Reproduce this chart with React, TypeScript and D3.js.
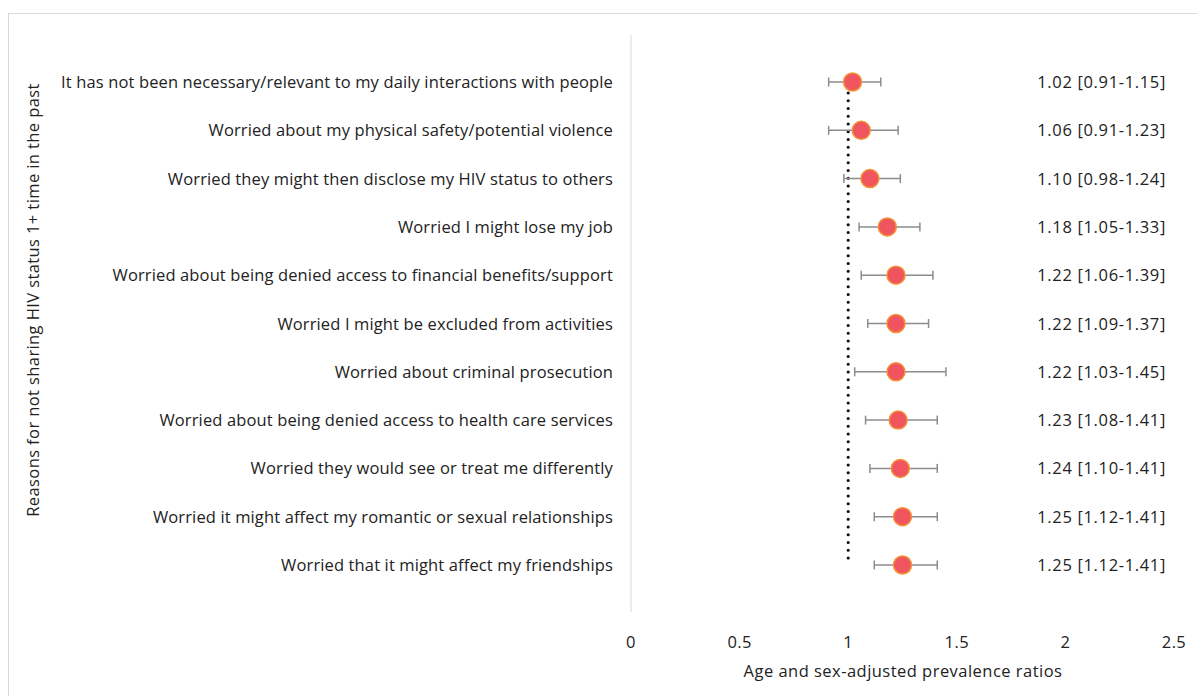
import React from "react";
import * as d3 from "d3";

const reasons = [
  "It has not been necessary/relevant to my daily interactions with people",
  "Worried about my physical safety/potential violence",
  "Worried they might then disclose my HIV status to others",
  "Worried I might lose my job",
  "Worried about being denied access to financial benefits/support",
  "Worried I might be excluded from activities",
  "Worried about criminal prosecution",
  "Worried about being denied access to health care services",
  "Worried they would see or treat me differently",
  "Worried it might affect my romantic or sexual relationships",
  "Worried that it might affect my friendships",
];
const ratios = [1.02, 1.06, 1.1, 1.18, 1.22, 1.22, 1.22, 1.23, 1.24, 1.25, 1.25];
const lower = [0.91, 0.91, 0.98, 1.05, 1.06, 1.09, 1.03, 1.08, 1.1, 1.12, 1.12];
const upper = [1.15, 1.23, 1.24, 1.33, 1.39, 1.37, 1.45, 1.41, 1.41, 1.41, 1.41];
const xTicks = [0, 0.5, 1, 1.5, 2, 2.5];

const W = 1197;
const H = 696;
const FONT = "'Open Sans', 'Noto Sans', sans-serif";
const FS = 16.5;

export default function App() {
  const x = d3.scaleLinear().domain([0, 2.5]).range([631, 1174]);
  const y = d3
    .scalePoint<string>()
    .domain(reasons)
    .range([82, 565]);
  const fmt = (v: number) => v.toFixed(2);
  const tickFmt = (v: number) => String(v);

  return (
    <svg
      width={W}
      height={H}
      style={{ position: "absolute", left: 0, top: 0, background: "#fff" }}
    >
      <rect x={8.5} y={13.5} width={1200} height={700} fill="#fff" stroke="#d9d9d9" />
      {/* value axis baseline */}
      <line x1={x(0)} x2={x(0)} y1={35} y2={612} stroke="#d9d9d9" strokeWidth={1} />
      {/* reference line at ratio 1 */}
      <line
        x1={x(1)}
        x2={x(1)}
        y1={93}
        y2={560}
        stroke="#111"
        strokeWidth={3.2}
        strokeLinecap="round"
        strokeDasharray="0 7.75"
      />
      {reasons.map((r, i) => {
        const cy = y(r)!;
        return (
          <g key={r}>
            <text
              x={613}
              y={cy - 0.5}
              textAnchor="end"
              dominantBaseline="central"
              fontFamily={FONT}
              fontSize={FS}
              letterSpacing={0.13}
              fill="#222"
            >
              {r}
            </text>
            <line x1={x(lower[i])} x2={x(upper[i])} y1={cy} y2={cy} stroke="#8c8c8c" strokeWidth={1.5} />
            <line x1={x(lower[i])} x2={x(lower[i])} y1={cy - 4.5} y2={cy + 4.5} stroke="#8c8c8c" strokeWidth={1.5} />
            <line x1={x(upper[i])} x2={x(upper[i])} y1={cy - 4.5} y2={cy + 4.5} stroke="#8c8c8c" strokeWidth={1.5} />
            <circle cx={x(ratios[i])} cy={cy} r={9} fill="#f0555f" stroke="#f39235" strokeWidth={1.5} />
            <text
              x={1166}
              y={cy - 0.5}
              textAnchor="end"
              dominantBaseline="central"
              fontFamily={FONT}
              fontSize={FS}
              letterSpacing={0.65}
              fill="#222"
            >
              {`${fmt(ratios[i])} [${fmt(lower[i])}-${fmt(upper[i])}]`}
            </text>
          </g>
        );
      })}
      {xTicks.map((t) => (
        <text
          key={t}
          x={x(t)}
          y={641}
          textAnchor="middle"
          dominantBaseline="central"
          fontFamily={FONT}
          fontSize={FS}
          letterSpacing={0.4}
          fill="#222"
        >
          {tickFmt(t)}
        </text>
      ))}
      <text
        x={903}
        y={670}
        textAnchor="middle"
        dominantBaseline="central"
        fontFamily={FONT}
        fontSize={FS}
        letterSpacing={0.47}
        fill="#222"
      >
        Age and sex-adjusted prevalence ratios
      </text>
      <text
        transform={`translate(32,${300}) rotate(-90)`}
        textAnchor="middle"
        dominantBaseline="central"
        fontFamily={FONT}
        fontSize={FS}
        letterSpacing={0.4}
        fill="#222"
      >
        Reasons for not sharing HIV status 1+ time in the past
      </text>
    </svg>
  );
}
